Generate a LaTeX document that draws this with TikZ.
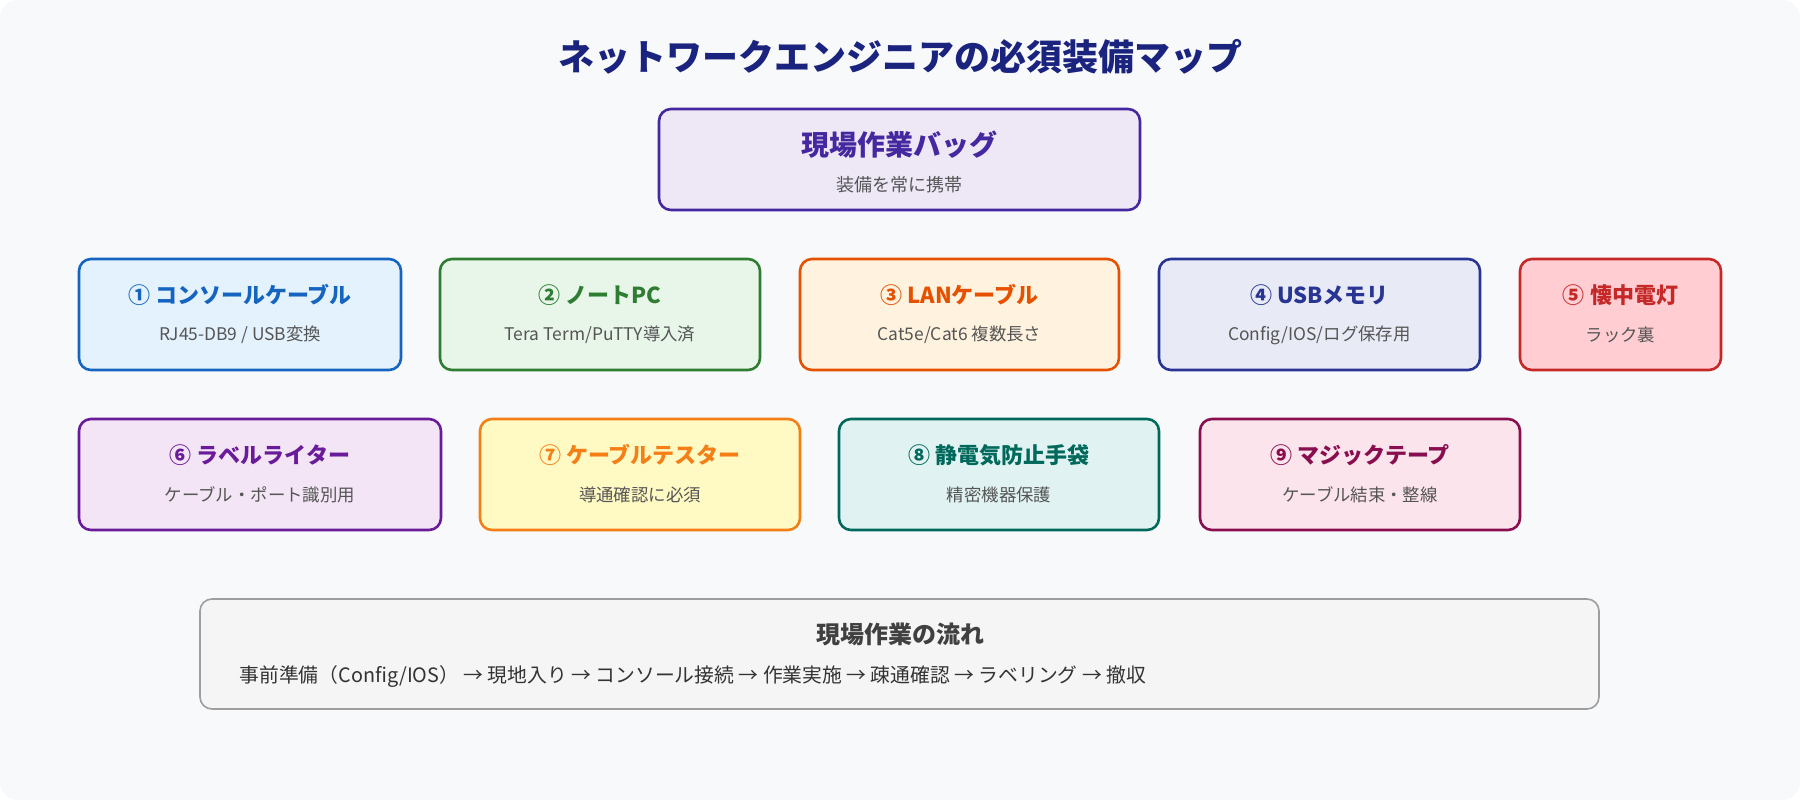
\documentclass[tikz,border=0pt]{standalone}
\usepackage{fontspec}
\setmainfont{Noto Sans CJK JP}
\definecolor{bg}{HTML}{F8F9FB}
\definecolor{tt}{HTML}{1A237E}
\definecolor{sub}{HTML}{555555}
\begin{document}
\begin{tikzpicture}[x=1pt,y=-1pt,
 box/.style={draw=#1,line width=2.6pt,rounded corners=12pt},
 ttl/.style={font=\fontsize{22}{26}\selectfont\bfseries,anchor=center},
 st/.style={font=\fontsize{17.4}{21}\selectfont,text=sub,anchor=center}]
\fill[bg,rounded corners=18pt] (0,0) rectangle (1800,800);
\useasboundingbox (0,0) rectangle (1800,800);
\node[font=\fontsize{36}{42}\selectfont\bfseries,text=tt] (title) at (900,57) {ネットワークエンジニアの必須装備マップ};
\newcommand\eqbox[9]{%
 \definecolor{f#1}{HTML}{#6}\definecolor{d#1}{HTML}{#7}%
 \draw[box=d#1,fill=f#1] (#2,#3) rectangle (#4,#5);
 \node[ttl,text=d#1] (t#1) at ({(#2+#4)/2},{#3+36}) {#8};
 \node[st] (s#1) at ({(#2+#4)/2},{#3+76}) {#9};}
\eqbox{0}{659}{109}{1140}{210}{EDE7F6}{4527A0}{\fontsize{28}{32}\selectfont 現場作業バッグ}{\fontsize{18}{22}\selectfont 装備を常に携帯}
\eqbox{1}{79}{259}{401}{370}{E3F2FD}{1565C0}{① コンソールケーブル}{RJ45-DB9 / USB変換}
\eqbox{2}{440}{259}{760}{370}{E8F5E9}{2E7D32}{② ノートPC}{Tera Term/PuTTY導入済}
\eqbox{3}{800}{259}{1119}{370}{FFF3E0}{E65100}{③ LANケーブル}{Cat5e/Cat6 複数長さ}
\eqbox{4}{1159}{259}{1480}{370}{E8EAF6}{283593}{④ USBメモリ}{Config/IOS/ログ保存用}
\eqbox{5}{1520}{259}{1721}{370}{FFCDD2}{C62828}{⑤ 懐中電灯}{ラック裏}
\eqbox{6}{79}{419}{441}{530}{F3E5F5}{6A1B9A}{⑥ ラベルライター}{ケーブル・ポート識別用}
\eqbox{7}{480}{419}{800}{530}{FFF9C4}{F57F17}{⑦ ケーブルテスター}{導通確認に必須}
\eqbox{8}{839}{419}{1159}{530}{E0F2F1}{00695C}{⑧ 静電気防止手袋}{精密機器保護}
\eqbox{9}{1200}{419}{1520}{530}{FCE4EC}{880E4F}{⑨ マジックテープ}{ケーブル結束・整線}
\definecolor{fl}{HTML}{F5F5F5}\definecolor{fb}{HTML}{9E9E9E}
\draw[fill=fl,draw=fb,line width=1.6pt,rounded corners=12pt] (200,599) rectangle (1599,709);
\node[font=\fontsize{24}{28}\selectfont\bfseries,text=black!75] (ft) at (900,634) {現場作業の流れ};
\node[font=\fontsize{19.8}{23}\selectfont,text=black!80,anchor=west] (fs) at (236,676) {事前準備（Config/IOS） → 現地入り → コンソール接続 → 作業実施 → 疎通確認 → ラベリング → 撤収};
\end{tikzpicture}
\end{document}
